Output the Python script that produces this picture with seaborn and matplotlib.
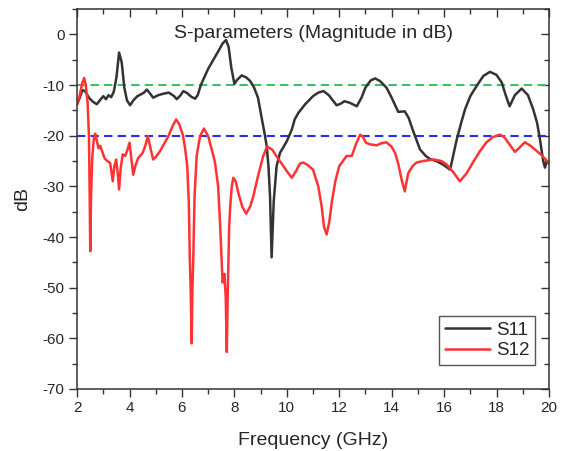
import pandas as pd
import seaborn as sns
import matplotlib.pyplot as plt
from matplotlib.ticker import MultipleLocator

# S11 trace (GHz, dB)
s11_freq = [2.0, 2.1, 2.2, 2.3, 2.45, 2.6, 2.75, 2.9, 3.0, 3.1, 3.2, 3.3, 3.4, 3.5, 3.6,
            3.7, 3.8, 3.9, 4.02, 4.15, 4.3, 4.45, 4.55, 4.66, 4.8, 4.9, 5.1, 5.3, 5.5,
            5.7, 5.8, 5.95, 6.05, 6.2, 6.35, 6.5, 6.6, 6.72, 6.85, 7.0, 7.2, 7.4, 7.55,
            7.68, 7.78, 7.88, 8.0, 8.1, 8.28, 8.45, 8.6, 8.75, 8.9, 9.04, 9.15, 9.23,
            9.3, 9.36, 9.42, 9.5, 9.61, 9.74, 10.0, 10.19, 10.3, 10.44, 10.7, 11.0,
            11.2, 11.4, 11.6, 11.9, 12.05, 12.2, 12.4, 12.67, 12.85, 13.0, 13.2, 13.37,
            13.55, 13.8, 14.0, 14.25, 14.5, 14.65, 14.8, 15.08, 15.3, 15.46, 15.7,
            15.96, 16.23, 16.48, 16.65, 16.8, 17.0, 17.24, 17.5, 17.75, 18.0, 18.2,
            18.35, 18.5, 18.7, 18.96, 19.2, 19.4, 19.55, 19.66, 19.78, 19.85, 19.92, 20.0]
s11_db = [-13.8, -12.5, -11.0, -11.2, -12.5, -13.3, -13.8, -12.8, -12.2, -12.8, -12.0,
          -12.4, -11.3, -8.5, -3.6, -5.5, -10.5, -13.0, -14.0, -13.0, -12.2, -11.8,
          -11.5, -10.9, -11.8, -12.5, -12.0, -11.7, -11.5, -12.2, -12.8, -12.0, -11.2,
          -11.6, -12.3, -12.7, -12.0, -10.0, -8.5, -6.8, -5.0, -3.2, -1.8, -1.1, -2.5,
          -6.5, -9.8, -9.0, -8.1, -8.5, -9.2, -10.5, -12.5, -16.5, -19.5, -22.0, -26.0,
          -32.0, -44.0, -33.0, -26.0, -23.4, -21.1, -18.8, -16.8, -15.5, -13.8, -12.2,
          -11.5, -11.2, -12.0, -14.0, -13.7, -13.2, -13.5, -14.2, -12.5, -10.5, -9.1,
          -8.7, -9.2, -10.5, -12.5, -15.3, -15.2, -16.5, -18.8, -22.7, -24.0, -24.6,
          -25.0, -25.7, -26.7, -20.8, -17.5, -14.8, -12.2, -10.2, -8.2, -7.4, -8.0,
          -9.5, -12.0, -14.2, -12.0, -10.7, -12.0, -14.8, -17.5, -20.8, -25.0, -26.3,
          -25.0, -25.5]

# S12 trace (GHz, dB)
s12_freq = [2.0, 2.1, 2.2, 2.27, 2.33, 2.4, 2.45, 2.48, 2.5, 2.53, 2.58, 2.64, 2.69,
            2.75, 2.82, 2.88, 2.95, 3.05, 3.15, 3.26, 3.36, 3.42, 3.49, 3.55, 3.6, 3.66,
            3.74, 3.83, 3.92, 4.0, 4.07, 4.14, 4.22, 4.33, 4.5, 4.6, 4.7, 4.8, 4.9, 5.0,
            5.17, 5.3, 5.48, 5.65, 5.78, 5.9, 6.03, 6.12, 6.2, 6.26, 6.3, 6.33, 6.37,
            6.4, 6.43, 6.48, 6.56, 6.69, 6.84, 7.0, 7.15, 7.26, 7.38, 7.45, 7.55, 7.62,
            7.67, 7.71, 7.75, 7.8, 7.84, 7.9, 7.96, 8.05, 8.15, 8.3, 8.45, 8.6, 8.72,
            8.9, 9.1, 9.25, 9.45, 9.6, 9.8, 10.0, 10.19, 10.35, 10.5, 10.63, 10.8, 11.0,
            11.2, 11.33, 11.42, 11.52, 11.62, 11.72, 11.85, 12.0, 12.1, 12.28, 12.48,
            12.65, 12.8, 12.9, 13.02, 13.17, 13.43, 13.6, 13.8, 14.0, 14.13, 14.25,
            14.38, 14.5, 14.63, 14.8, 14.95, 15.2, 15.6, 15.9, 16.1, 16.35, 16.6, 16.85,
            17.1, 17.35, 17.6, 17.85, 18.13, 18.3, 18.45, 18.6, 18.7, 18.85, 19.08, 19.3,
            19.53, 19.75, 20.0]
s12_db = [-13.8, -12.0, -9.5, -8.6, -10.0, -13.5, -20.0, -32.0, -42.8, -32.0, -24.0,
          -20.5, -19.6, -21.0, -22.5, -22.0, -23.0, -24.5, -25.0, -25.4, -29.0, -26.0,
          -24.7, -27.5, -30.6, -26.5, -23.7, -24.0, -22.8, -21.4, -24.5, -27.7, -26.0,
          -24.4, -23.4, -22.0, -20.1, -22.5, -24.7, -24.2, -23.0, -21.8, -20.1, -18.0,
          -16.8, -17.8, -19.8, -22.5, -26.0, -33.0, -44.5, -50.0, -61.0, -50.0, -44.5,
          -32.0, -24.0, -20.1, -18.6, -20.1, -23.0, -25.3, -30.0, -37.0, -49.0, -47.3,
          -52.0, -62.7, -50.0, -38.0, -34.0, -30.0, -28.3, -29.0, -31.3, -34.0, -35.4,
          -34.0, -32.0, -28.0, -24.0, -22.1, -22.8, -24.0, -25.5, -27.0, -28.3, -27.0,
          -25.5, -25.3, -25.8, -26.7, -30.0, -34.0, -38.0, -39.5, -37.0, -33.0, -29.0,
          -26.0, -25.3, -24.0, -24.0, -21.5, -19.8, -20.2, -21.4, -21.7, -21.9, -21.5,
          -21.3, -22.2, -23.4, -25.5, -28.7, -31.0, -27.4, -26.0, -25.3, -25.0, -24.7,
          -25.0, -25.7, -27.2, -29.0, -27.5, -25.3, -23.2, -21.4, -20.3, -19.8, -20.3,
          -21.4, -22.5, -23.2, -22.5, -21.3, -22.0, -23.0, -24.0, -25.4]

ref_levels = [-10, -20]
ref_colors = ['#33c46a', '#2b2bf2']

df = pd.concat([
    pd.DataFrame({'freq': s11_freq, 'dB': s11_db, 'param': 'S11'}),
    pd.DataFrame({'freq': s12_freq, 'dB': s12_db, 'param': 'S12'}),
])

sns.set_style("ticks")
plt.rcParams['font.family'] = ['Liberation Sans', 'DejaVu Sans']
plt.rcParams['axes.unicode_minus'] = False

fig, ax = plt.subplots(figsize=(5.63, 4.51), dpi=100)
plt.subplots_adjust(left=0.137, right=0.975, top=0.980, bottom=0.1375)

for lvl, c in zip(ref_levels, ref_colors):
    ax.axhline(lvl, color=c, lw=1.5, dashes=(4, 2.5), zorder=1)

sns.lineplot(data=df, x='freq', y='dB', hue='param', estimator=None, sort=False,
             palette={'S11': '#333333', 'S12': '#ff3333'}, lw=1.8, ax=ax, zorder=2)

ax.set_xlim(2, 20)
ax.set_ylim(-70, 5)
ax.set_xticks(range(2, 21, 2))
ax.set_yticks(range(-70, 1, 10))
ax.xaxis.set_minor_locator(MultipleLocator(1))
ax.yaxis.set_minor_locator(MultipleLocator(5))
ax.tick_params(which='both', direction='out', labelsize=11, color='#333333', pad=3)
ax.tick_params(which='major', length=6, width=1)
ax.tick_params(which='minor', length=3.5, width=1)
for sp in ax.spines.values():
    sp.set_color('#333333')
    sp.set_linewidth(1.1)

# mirrored ticks on top/right pointing into the plot
top = ax.secondary_xaxis('top')
top.set_xticks(range(2, 21, 2))
top.xaxis.set_minor_locator(MultipleLocator(1))
top.tick_params(which='both', direction='in', labeltop=False, color='#333333')
top.tick_params(which='major', length=6, width=1)
top.tick_params(which='minor', length=3.5, width=1)
right = ax.secondary_yaxis('right')
right.set_yticks(range(-70, 1, 10))
right.yaxis.set_minor_locator(MultipleLocator(5))
right.tick_params(which='both', direction='in', labelright=False, color='#333333')
right.tick_params(which='major', length=6, width=1)
right.tick_params(which='minor', length=3.5, width=1)
top.spines['top'].set_visible(False)
right.spines['right'].set_visible(False)

ax.set_xlabel('Frequency (GHz)', fontsize=14)
ax.set_ylabel('dB', fontsize=14)
ax.xaxis.set_label_coords(0.5, -0.112)
ax.yaxis.set_label_coords(-0.097, 0.5)

ax.text(0.5, 0.936, 'S-parameters (Magnitude in dB)', transform=ax.transAxes,
        ha='center', va='center', fontsize=14)

h, l = ax.get_legend_handles_labels()
leg = ax.legend(h, l, loc='lower right', bbox_to_anchor=(0.97, 0.063), borderaxespad=0,
                fontsize=13.5, fancybox=False, framealpha=1, edgecolor='#555555',
                handlelength=2.4, handletextpad=0.3, borderpad=0.3, labelspacing=0.2)
leg.get_frame().set_linewidth(1.0)

fig.savefig('out.png', dpi=100)
